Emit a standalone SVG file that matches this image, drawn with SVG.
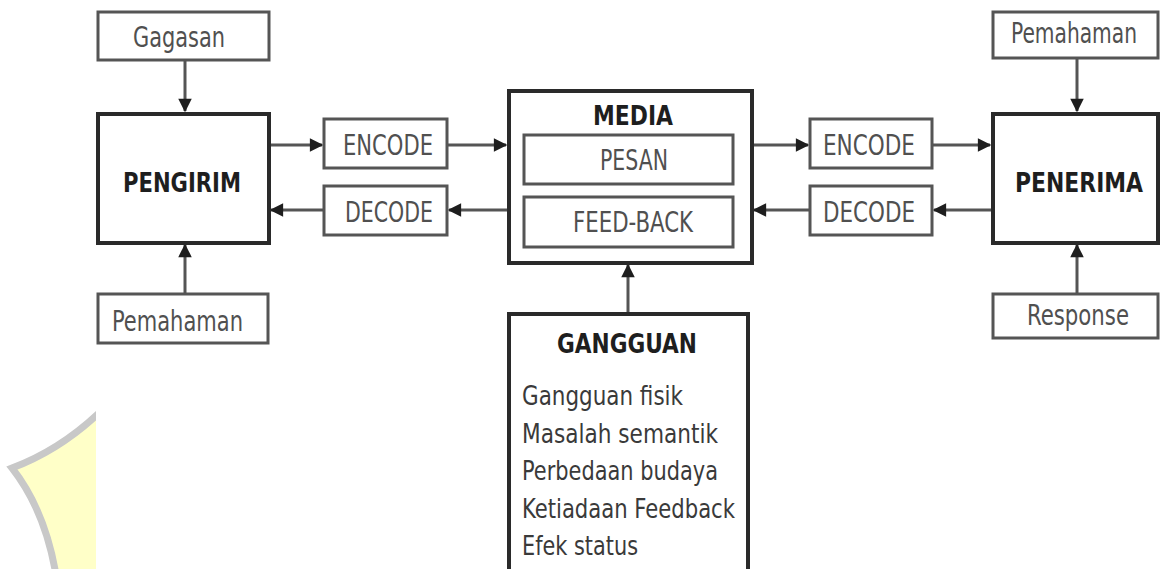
<svg xmlns="http://www.w3.org/2000/svg" width="1162" height="569" viewBox="0 0 1162 569">
<style>
.box{fill:#fff;stroke:#555;stroke-width:3}
.thick{fill:#fff;stroke:#2a2a2a;stroke-width:4}
.t{font-family:"DejaVu Sans Condensed","Liberation Sans Narrow","Liberation Sans",sans-serif;font-size:28px;fill:#505050}
.b{font-family:"DejaVu Sans Condensed","Liberation Sans Narrow","Liberation Sans",sans-serif;font-size:27px;font-weight:bold;fill:#1e1e1e}
.l{font-family:"DejaVu Sans Condensed","Liberation Sans Narrow","Liberation Sans",sans-serif;font-size:27px;fill:#3a3a3a}
.m{text-anchor:middle}
.c{stroke:#555;stroke-width:3;fill:none;marker-end:url(#ah)}
</style>
<defs>
<marker id="ah" viewBox="0 0 10 10" refX="9" refY="5" markerWidth="5" markerHeight="4.5" markerUnits="strokeWidth" orient="auto">
<path d="M0,0L10,5L0,10z" fill="#1e1e1e"/>
</marker>
<clipPath id="wm"><rect x="0" y="380" width="96" height="189"/></clipPath>
</defs>
<rect width="1162" height="569" fill="#fff"/>
<g id="watermark" clip-path="url(#wm)">
<path d="M100,412 Q60,450 12,468 Q45,510 56,575 L100,575 Z" fill="#ffffc8" stroke="#c8c8c8" stroke-width="7" stroke-linejoin="miter"/>
</g>
<g id="connectors">
<line class="c" x1="185" y1="61" x2="185" y2="111"/>
<line class="c" x1="185" y1="293" x2="185" y2="245"/>
<line class="c" x1="270" y1="145" x2="322" y2="145"/>
<line class="c" x1="448" y1="145" x2="506" y2="145"/>
<line class="c" x1="507" y1="210" x2="449" y2="210"/>
<line class="c" x1="323" y1="210" x2="271" y2="210"/>
<line class="c" x1="753" y1="145" x2="808" y2="145"/>
<line class="c" x1="933" y1="145" x2="990" y2="145"/>
<line class="c" x1="991" y1="210" x2="934" y2="210"/>
<line class="c" x1="809" y1="210" x2="754" y2="210"/>
<line class="c" x1="1077" y1="58" x2="1077" y2="111"/>
<line class="c" x1="1077" y1="293" x2="1077" y2="245"/>
<line class="c" x1="628" y1="313" x2="628" y2="265"/>
</g>
<g id="gagasan"><rect class="box" x="98" y="12" width="171" height="48"/><text class="t m" x="179" y="47" textLength="92" lengthAdjust="spacingAndGlyphs">Gagasan</text></g>
<g id="pengirim"><rect class="thick" x="98" y="114" width="171" height="129"/><text class="b m" x="182" y="192" textLength="118" lengthAdjust="spacingAndGlyphs">PENGIRIM</text></g>
<g id="pemahaman-left"><rect class="box" x="98" y="294" width="170" height="49"/><text class="t m" x="177.5" y="331" textLength="131" lengthAdjust="spacingAndGlyphs">Pemahaman</text></g>
<g id="encode-left"><rect class="box" x="324" y="119" width="123" height="49"/><text class="t m" x="388" y="155" textLength="90" lengthAdjust="spacingAndGlyphs">ENCODE</text></g>
<g id="decode-left"><rect class="box" x="324" y="186" width="123" height="49"/><text class="t m" x="389" y="222" textLength="88" lengthAdjust="spacingAndGlyphs">DECODE</text></g>
<g id="media"><rect class="thick" x="509" y="91" width="243" height="172"/><text class="b m" x="633" y="125" textLength="80" lengthAdjust="spacingAndGlyphs">MEDIA</text>
<rect class="box" x="524" y="135" width="209" height="49"/><text class="t m" x="634" y="170" textLength="68" lengthAdjust="spacingAndGlyphs">PESAN</text>
<rect class="box" x="524" y="197" width="209" height="50"/><text class="t m" x="633" y="232" textLength="120" lengthAdjust="spacingAndGlyphs">FEED-BACK</text></g>
<g id="encode-right"><rect class="box" x="810" y="119" width="122" height="49"/><text class="t m" x="869" y="155" textLength="92" lengthAdjust="spacingAndGlyphs">ENCODE</text></g>
<g id="decode-right"><rect class="box" x="810" y="186" width="122" height="49"/><text class="t m" x="869" y="222" textLength="92" lengthAdjust="spacingAndGlyphs">DECODE</text></g>
<g id="pemahaman-right"><rect class="box" x="993" y="12" width="165" height="46"/><text class="t m" x="1074" y="43" font-size="24" textLength="126" lengthAdjust="spacingAndGlyphs">Pemahaman</text></g>
<g id="penerima"><rect class="thick" x="993" y="114" width="165" height="129"/><text class="b m" x="1079" y="192" textLength="128" lengthAdjust="spacingAndGlyphs">PENERIMA</text></g>
<g id="response"><rect class="box" x="993" y="294" width="165" height="44"/><text class="t m" x="1078" y="325" textLength="102" lengthAdjust="spacingAndGlyphs">Response</text></g>
<g id="gangguan"><rect class="thick" x="509" y="314" width="239" height="262"/><text class="b m" x="627" y="353" textLength="140" lengthAdjust="spacingAndGlyphs">GANGGUAN</text>
<text class="l" x="522" y="405" textLength="161" lengthAdjust="spacingAndGlyphs">Gangguan fisik</text>
<text class="l" x="522" y="443" textLength="196" lengthAdjust="spacingAndGlyphs">Masalah semantik</text>
<text class="l" x="522" y="480" textLength="196" lengthAdjust="spacingAndGlyphs">Perbedaan budaya</text>
<text class="l" x="522" y="518" textLength="213" lengthAdjust="spacingAndGlyphs">Ketiadaan Feedback</text>
<text class="l" x="522" y="555" textLength="116" lengthAdjust="spacingAndGlyphs">Efek status</text></g>
</svg>
